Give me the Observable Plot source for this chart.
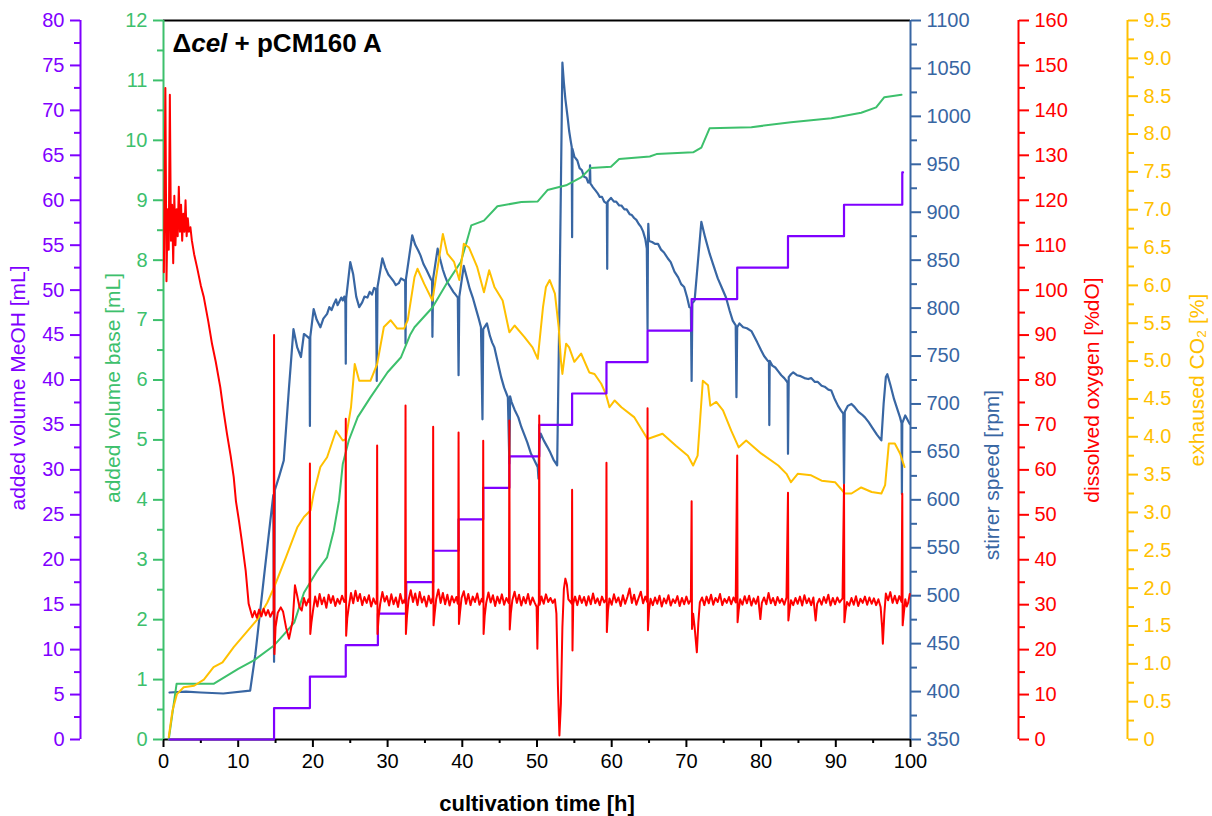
<!DOCTYPE html>
<html><head><meta charset="utf-8">
<script src="https://cdn.jsdelivr.net/npm/d3@7"></script>
<script src="https://cdn.jsdelivr.net/npm/@observablehq/plot@0.6"></script>
<style>
html,body{margin:0;padding:0;background:#fff;}
#chart{position:relative;width:1212px;height:816px;background:#fff;}
#chart svg{position:absolute;left:0;top:0;}
</style></head><body><div id="chart"></div>
<script>
// ---------------- data ----------------
const timeTicks = [0,10,20,30,40,50,60,70,80,90,100];
const timeMinor = [5,15,25,35,45,55,65,75,85,95];
const meohTicks = [0,5,10,15,20,25,30,35,40,45,50,55,60,65,70,75,80];
const meohMinor = [2.5,7.5,12.5,17.5,22.5,27.5,32.5,37.5,42.5,47.5,52.5,57.5,62.5,67.5,72.5,77.5];
const baseTicks = [0,1,2,3,4,5,6,7,8,9,10,11,12];
const baseMinor = [0.5,1.5,2.5,3.5,4.5,5.5,6.5,7.5,8.5,9.5,10.5,11.5];
const stirTicks = [350,400,450,500,550,600,650,700,750,800,850,900,950,1000,1050,1100];
const stirMinor = [375,425,475,525,575,625,675,725,775,825,875,925,975,1025,1075];
const doTicks = [0,10,20,30,40,50,60,70,80,90,100,110,120,130,140,150,160];
const doMinor = [5,15,25,35,45,55,65,75,85,95,105,115,125,135,145,155];
const co2Ticks = [0,0.5,1,1.5,2,2.5,3,3.5,4,4.5,5,5.5,6,6.5,7,7.5,8,8.5,9,9.5];
const co2Minor = [0.25,0.75,1.25,1.75,2.25,2.75,3.25,3.75,4.25,4.75,5.25,5.75,6.25,6.75,7.25,7.75,8.25,8.75,9.25];

const meohVolume = [[0.8,0],[14.8,3.5],[19.6,7],[24.4,10.5],[28.7,14],[32.5,17.5],[36.1,21],[39.5,24.5],[42.8,28],[46.3,31.5],[50.3,35],[54.7,38.5],[59.3,42],[64.8,45.5],[70.7,49],[76.8,52.5],[83.6,56],[91.1,59.5],[98.9,63.1],[99.0,63.1]];

const baseVolume = [[0.7,0],[1.75,0.93],[6.7,0.93],[10,1.18],[12.1,1.32],[14.8,1.57],[16.1,1.75],[17.5,1.95],[18.8,2.45],[20.6,2.82],[21.9,3.04],[22.8,3.49],[23.5,3.99],[24.0,4.6],[24.8,4.99],[26,5.38],[27.7,5.71],[30,6.13],[31.8,6.38],[33,6.75],[33.6,6.88],[36,7.21],[38,7.63],[39.8,7.97],[40.5,8.27],[41.2,8.58],[42.9,8.66],[44.7,8.9],[47.9,8.97],[50.1,8.98],[51.4,9.17],[53.9,9.25],[55.9,9.38],[57.2,9.54],[59.9,9.56],[61,9.69],[65.1,9.73],[66,9.77],[70.9,9.8],[72,9.88],[73.1,10.2],[78.7,10.22],[84,10.3],[89.4,10.37],[93.4,10.46],[95.4,10.55],[96.5,10.72],[98.8,10.76]];

const stirrerSpeed = [[0.8,399],[3,400],[5,399],[8,398],[11.6,401],[12.3,439],[13.4,516],[14.3,578],[14.7,605],[14.8,431],[14.9,610],[15.5,625],[16.1,641],[16.8,717],[17.4,778],[17.9,759],[18.4,749],[18.8,773],[19.3,770],[19.55,768],[19.6,677],[19.65,770],[20.1,799],[20.5,788],[21.0,780],[21.4,789],[21.9,794],[22.2,801],[22.5,798],[22.8,804],[23.1,809],[23.3,803],[23.5,806],[23.8,811],[24.0,808],[24.2,812],[24.35,805],[24.4,742],[24.45,810],[25.0,848],[25.4,835],[25.8,812],[26.2,801],[26.6,806],[26.9,812],[27.3,811],[27.6,817],[27.9,814],[28.2,821],[28.45,820],[28.55,724],[28.65,822],[29.3,852],[29.7,842],[30.1,835],[30.4,832],[30.8,828],[31.1,824],[31.5,826],[31.8,831],[32.2,829],[32.35,829],[32.4,763],[32.45,830],[33.3,876],[33.7,866],[34.1,860],[34.4,855],[34.8,846],[35.2,840],[35.5,835],[35.8,830],[35.95,829],[36.0,770],[36.1,831],[36.7,862],[37.0,852],[37.4,840],[37.7,833],[38.0,827],[38.4,822],[38.8,817],[39.1,814],[39.4,811],[39.5,730],[39.6,812],[40.2,844],[40.6,832],[41.0,820],[41.4,811],[41.8,800],[42.2,789],[42.5,780],[42.7,684],[42.8,778],[43.3,784],[43.7,771],[44.0,764],[44.3,759],[44.7,745],[45.2,728],[45.6,717],[46.1,707],[46.3,638],[46.4,708],[46.6,702],[47.0,694],[47.5,686],[47.9,676],[48.3,668],[48.7,660],[49.2,648],[49.6,642],[50.1,634],[50.2,622],[50.3,660],[50.5,669],[50.9,662],[51.4,655],[51.8,649],[52.2,642],[52.7,636],[53.0,800],[53.4,1056],[53.6,1035],[53.8,1018],[54.1,999],[54.3,985],[54.5,975],[54.65,968],[54.7,874],[54.75,966],[55.0,958],[55.4,954],[55.7,946],[56.0,944],[56.3,937],[56.6,936],[56.85,931],[57.05,932],[57.1,949],[57.15,930],[57.5,926],[57.8,923],[58.1,920],[58.4,916],[58.7,916],[59.0,911],[59.35,909],[59.4,841],[59.45,911],[59.9,915],[60.3,911],[60.6,911],[61.0,907],[61.3,907],[61.7,903],[62.0,903],[62.4,898],[62.7,897],[63.0,894],[63.3,892],[63.6,888],[63.9,885],[64.2,880],[64.5,872],[64.7,862],[64.8,778],[64.85,870],[64.9,888],[65.0,870],[65.4,869],[65.8,867],[66.2,867],[66.6,861],[67.0,858],[67.5,852],[67.9,848],[68.4,838],[68.9,832],[69.3,825],[69.7,822],[70.1,811],[70.4,801],[70.6,800],[70.7,724],[70.8,805],[71.1,808],[72.0,890],[72.5,874],[73.1,857],[73.6,845],[74.2,831],[74.7,822],[75.3,811],[75.8,797],[76.2,787],[76.6,782],[76.7,707],[76.8,780],[77.1,784],[77.6,780],[78.1,779],[78.7,776],[79.1,770],[79.5,764],[80.0,756],[80.4,750],[80.9,745],[81.05,744],[81.1,678],[81.15,745],[81.5,740],[81.9,738],[82.3,734],[82.7,730],[83.1,727],[83.4,724],[83.55,722],[83.6,648],[83.7,728],[84.0,731],[84.3,733],[84.8,730],[85.3,729],[85.8,727],[86.3,726],[86.7,727],[87.2,723],[87.6,723],[88.1,719],[88.5,718],[89.0,715],[89.4,714],[89.8,706],[90.3,698],[90.7,693],[91.0,690],[91.1,617],[91.2,692],[91.6,698],[92.1,700],[92.5,697],[93.0,692],[93.5,689],[93.9,686],[94.4,681],[94.9,675],[95.5,668],[96.1,662],[96.4,700],[96.7,728],[96.9,731],[97.3,720],[97.8,705],[98.3,693],[98.6,686],[98.8,680],[98.85,606],[98.9,680],[99.3,688],[99.9,679]];

const dissolvedOxygen = [[0.05,104],[0.25,145],[0.4,102],[0.55,118],[0.7,109],[0.85,143.5],[1.0,111],[1.15,119],[1.3,106],[1.45,121],[1.6,110],[1.75,118],[1.9,112],[2.05,123],[2.2,113],[2.35,119],[2.5,111],[2.65,117],[2.8,113],[2.95,120],[3.1,112],[3.25,116],[3.4,113],[3.6,114],[3.8,111],[4.1,108],[4.5,105],[5.0,101],[5.4,98.4],[6.0,93],[6.5,88],[7.0,84],[7.6,78.4],[8.0,73.5],[8.5,68],[9.0,63],[9.4,58.4],[9.7,53],[10.1,48.7],[10.5,44],[11.0,37.6],[11.4,30.2],[11.9,27.2],[12.2,28.6],[12.5,27.1],[12.8,28.9],[13.1,27.4],[13.4,29.1],[13.7,27.6],[14.0,28.8],[14.3,27.3],[14.6,28.4],[14.75,28],[14.8,90],[14.85,19],[15.0,25],[15.3,28.2],[15.7,29.4],[16.0,28.5],[16.4,25],[16.8,22.4],[17.0,24],[17.3,26.5],[17.6,34.3],[17.9,32],[18.2,29.5],[18.5,28.7],[18.8,31.5],[19.1,29.8],[19.4,31.2],[19.55,30.5],[19.6,61.4],[19.65,23.5],[19.8,26],[20.0,28.5],[20.3,31.8],[20.6,29.6],[20.9,32.4],[21.2,30.1],[21.5,31.6],[21.8,29.3],[22.1,32.2],[22.4,30.4],[22.7,31.9],[23.0,29.7],[23.3,31.3],[23.6,30.2],[23.9,32.0],[24.2,30.6],[24.35,30.8],[24.4,71.4],[24.45,23.1],[24.6,27],[24.8,29.5],[25.1,32.6],[25.4,30.3],[25.7,33.1],[26.0,30.8],[26.3,32.4],[26.6,29.9],[26.9,31.7],[27.2,30.4],[27.5,32.1],[27.8,29.6],[28.1,31.4],[28.4,30.2],[28.55,30.6],[28.6,65.4],[28.65,23.5],[28.8,27.2],[29.0,30.1],[29.3,32.8],[29.6,30.7],[29.9,31.9],[30.2,29.8],[30.5,32.3],[30.8,30.1],[31.1,31.6],[31.4,29.5],[31.7,32.4],[32.0,30.3],[32.3,31.2],[32.35,30.4],[32.4,74.3],[32.45,23.5],[32.6,27.5],[32.8,31],[33.1,33.2],[33.4,30.6],[33.7,32.5],[34.0,29.9],[34.3,32.8],[34.6,30.5],[34.9,31.8],[35.2,29.6],[35.5,32.0],[35.8,30.3],[36.0,31.4],[36.05,30.7],[36.1,69.6],[36.15,25.4],[36.3,28],[36.5,31.2],[36.8,33.4],[37.1,30.4],[37.4,32.6],[37.7,30.1],[38.0,32.2],[38.3,29.8],[38.6,31.9],[38.9,30.5],[39.2,31.7],[39.4,30.2],[39.45,30.5],[39.5,68.3],[39.55,25.7],[39.7,28.4],[39.9,31.5],[40.2,33.0],[40.5,30.2],[40.8,32.4],[41.1,29.9],[41.4,31.8],[41.7,30.6],[42.0,32.5],[42.3,30.0],[42.6,31.3],[42.75,30.6],[42.8,66.5],[42.85,23.5],[43.0,27.5],[43.2,30.4],[43.5,32.7],[43.8,30.5],[44.1,32.1],[44.4,29.7],[44.7,31.8],[45.0,30.3],[45.3,32.3],[45.6,30.0],[45.9,31.5],[46.2,30.4],[46.25,30.8],[46.3,71],[46.35,24.5],[46.5,28.2],[46.7,31],[47.0,32.9],[47.3,30.4],[47.6,32.2],[47.9,29.8],[48.2,31.7],[48.5,30.3],[48.8,32.4],[49.1,30.0],[49.4,31.6],[49.7,30.4],[49.95,29.5],[50.05,20.2],[50.15,29.5],[50.25,30.5],[50.3,72.1],[50.35,30.0],[50.6,31.8],[50.9,30.2],[51.2,32.3],[51.5,30.6],[51.8,31.5],[52.1,30.4],[52.4,31.2],[52.6,28],[52.8,12],[53.0,0.9],[53.2,8],[53.4,25],[53.6,33.5],[53.8,35.8],[54.0,34.5],[54.2,31.2],[54.5,30.6],[54.65,30.2],[54.7,55.6],[54.75,19.8],[54.85,30.2],[55.1,31.8],[55.4,29.9],[55.7,32.0],[56.0,30.4],[56.3,31.7],[56.6,29.8],[56.9,31.9],[57.2,30.1],[57.5,32.5],[57.8,30.3],[58.1,31.4],[58.4,29.9],[58.7,31.8],[59.0,30.5],[59.25,31.2],[59.3,61.6],[59.35,23.9],[59.5,28.6],[59.7,31.4],[60.0,30.0],[60.3,32.3],[60.6,30.5],[60.9,31.6],[61.2,29.7],[61.5,32.1],[61.8,30.2],[62.1,31.7],[62.4,33.6],[62.7,30.4],[63.0,32.2],[63.3,30.0],[63.6,31.5],[63.9,32.9],[64.2,30.3],[64.5,31.8],[64.75,30.6],[64.8,73.7],[64.85,24.3],[65.0,28.8],[65.2,31.3],[65.5,29.9],[65.8,31.6],[66.1,30.2],[66.4,32.0],[66.7,29.6],[67.0,31.4],[67.3,30.3],[67.6,32.1],[67.9,29.8],[68.2,31.2],[68.5,30.4],[68.8,31.9],[69.1,29.7],[69.4,31.5],[69.7,30.1],[70.0,31.8],[70.3,30.2],[70.6,31.1],[70.7,53],[70.75,24.6],[70.9,28],[71.1,25],[71.4,19.4],[71.6,26],[71.8,30.5],[72.1,31.6],[72.4,29.9],[72.7,31.8],[73.0,30.3],[73.3,32.2],[73.6,30.0],[73.9,31.5],[74.2,30.6],[74.5,32.4],[74.8,29.9],[75.1,31.3],[75.4,30.4],[75.7,31.7],[76.0,30.1],[76.3,31.6],[76.6,30.5],[76.8,63.2],[76.85,26.1],[77.0,28.8],[77.2,31.2],[77.5,30.0],[77.8,31.9],[78.1,30.3],[78.4,32.0],[78.7,29.8],[79.0,31.4],[79.3,30.2],[79.6,31.8],[79.9,26.8],[80.1,30.4],[80.4,31.6],[80.7,30.1],[81.0,32.6],[81.3,30.3],[81.6,31.5],[81.9,29.9],[82.2,31.7],[82.5,30.4],[82.8,31.3],[83.1,30.0],[83.4,31.6],[83.6,54.9],[83.65,26.5],[83.8,28.6],[84.0,31.0],[84.3,29.9],[84.6,31.5],[84.9,30.2],[85.2,31.8],[85.5,29.8],[85.8,32.1],[86.1,30.3],[86.4,31.4],[86.7,29.9],[87.0,31.6],[87.3,26.5],[87.5,30.2],[87.8,31.3],[88.1,30.0],[88.4,31.7],[88.7,30.4],[89.0,32.2],[89.3,29.8],[89.6,31.5],[89.9,30.1],[90.2,31.6],[90.5,30.5],[90.9,31.4],[91.1,56.7],[91.15,26.1],[91.3,28.5],[91.5,30.6],[91.8,29.8],[92.1,31.5],[92.4,30.0],[92.7,31.9],[93.0,29.7],[93.3,31.3],[93.6,30.4],[93.9,31.8],[94.2,30.0],[94.5,31.6],[94.8,30.2],[95.1,31.4],[95.4,29.9],[95.7,31.2],[96.0,29.5],[96.2,25],[96.3,21.3],[96.5,28],[96.7,32.5],[97.0,31.0],[97.3,32.8],[97.6,30.4],[97.9,32.0],[98.2,30.3],[98.5,31.9],[98.8,30.6],[98.9,54.7],[98.95,25.4],[99.1,28],[99.3,31.2],[99.5,29.6],[99.7,30.5],[99.9,32.4]];

const exhaustCO2 = [[0.7,0.03],[1.2,0.38],[1.8,0.6],[2.7,0.69],[4.1,0.71],[5.4,0.79],[6.7,0.955],[7.9,1.02],[9.4,1.22],[11.2,1.43],[12.6,1.59],[13.9,1.81],[14.8,2.01],[16.4,2.41],[17.9,2.8],[18.8,2.94],[19.7,3.03],[20.1,3.25],[21.0,3.6],[21.9,3.73],[23.1,4.08],[24.0,3.95],[24.4,3.97],[25.1,4.39],[25.6,4.96],[26.2,4.74],[27.7,4.74],[28.6,4.96],[29.5,5.45],[30.4,5.54],[31.3,5.43],[32.2,5.43],[32.7,5.54],[33.6,6.11],[34.0,6.22],[34.9,6.02],[36.0,5.8],[36.7,6.24],[37.4,6.68],[38.0,6.42],[38.9,6.31],[39.6,6.07],[40.2,6.55],[40.9,6.5],[42.0,6.24],[42.9,5.91],[43.6,6.2],[44.3,5.98],[45.4,5.8],[46.3,5.38],[47.0,5.47],[48.3,5.32],[49.4,5.18],[50.1,5.03],[50.8,5.71],[51.2,5.98],[51.7,6.07],[52.4,5.89],[52.9,5.45],[53.2,5.01],[53.4,4.83],[53.9,5.23],[54.3,5.18],[55.0,4.99],[55.9,5.1],[57.0,4.85],[57.7,4.83],[58.6,4.7],[59.2,4.57],[59.7,4.39],[60.4,4.48],[61.3,4.39],[63.0,4.26],[64.8,3.97],[66.8,4.04],[68.6,3.88],[70.2,3.75],[70.9,3.62],[71.5,3.75],[72.2,4.74],[72.9,4.68],[73.2,4.41],[74.0,4.46],[74.9,4.35],[76.0,4.08],[77.0,3.86],[78.0,3.95],[80.0,3.78],[82.3,3.62],[83.4,3.51],[84.0,3.4],[84.9,3.51],[86.7,3.49],[88.1,3.42],[89.9,3.4],[90.7,3.31],[91.2,3.25],[92.1,3.25],[93.4,3.33],[94.8,3.27],[96.1,3.25],[96.6,3.36],[97.1,3.91],[97.9,3.91],[98.6,3.78],[99.2,3.6]];

const panelTitle = "Δcel + pCM160 A";
const xTitle = "cultivation time [h]";
const meohTitle = "added volume MeOH [mL]";
const baseTitle = "added volume base [mL]";
const stirTitle = "stirrer speed [rpm]";
const doTitle = "dissolved oxygen [%dO]";
const co2Title = "exhaused CO₂ [%]";

// ---------------- layout / style ----------------
const W = 1212, H = 816;
const M = {top: 20, right: 302, bottom: 77, left: 163};
const FONT = "'Liberation Sans', Arial, sans-serif";
const C = {meoh: "#7f00ff", base: "#3dc06c", stir: "#3866a3", do: "#ff0000", co2: "#ffc000"};

function layer(ydomain, marks) {
  return Plot.plot({
    width: W, height: H,
    marginTop: M.top, marginRight: M.right, marginBottom: M.bottom, marginLeft: M.left,
    x: {domain: [0, 100], axis: null},
    y: {domain: ydomain, axis: null},
    style: {background: "transparent", fontFamily: FONT, fontSize: "20px", overflow: "visible"},
    marks
  });
}
function yAxis(ticks, minor, color, anchor, dx, fmt) {
  return [
    Plot.ruleX([anchor === "left" ? 0 : 100], {stroke: color, strokeWidth: 2, dx}),
    Plot.axisY({ticks, anchor, dx, color, tickSize: 10, tickPadding: 6, strokeWidth: 2, label: null, fontSize: 20, tickFormat: fmt || (d => String(d))}),
    Plot.axisY({ticks: minor, anchor, dx, color, tickSize: 6, strokeWidth: 2, label: null, tickFormat: () => ""})
  ];
}
function vTitle(text, color, anchor, dx, dy) {
  return Plot.text([text], {frameAnchor: anchor, dx, dy: dy || 0, rotate: -90, fill: color, fontSize: 21, textAnchor: "middle", lineAnchor: "middle"});
}
const pt = (arr) => arr.map(([t, v]) => ({t, v}));

const chart = document.getElementById("chart");

// base layer: x axis, frame, panel title
chart.append(layer([0, 80], [
  Plot.ruleY([80], {stroke: "black", strokeWidth: 2}),
  Plot.ruleY([0], {stroke: "black", strokeWidth: 2}),
  Plot.axisX({ticks: timeTicks, tickSize: 8, tickPadding: 6, strokeWidth: 2, color: "black", label: null, fontSize: 20}),
  Plot.axisX({ticks: timeMinor, tickSize: 4, strokeWidth: 2, color: "black", label: null, tickFormat: () => ""}),
  Plot.text([xTitle], {frameAnchor: "bottom", dy: 64, fontWeight: "bold", fontSize: 22, lineAnchor: "middle", fill: "black"}),
  Plot.text([panelTitle], {frameAnchor: "top-left", dx: 9, dy: 23, fontWeight: "bold", fontSize: 26, textAnchor: "start", lineAnchor: "middle", fill: "black"})
]));

// stirrer speed (blue)
chart.append(layer([350, 1100], [
  ...yAxis(stirTicks, stirMinor, C.stir, "right", 0),
  vTitle(stirTitle, C.stir, "right", 82, 95),
  Plot.line(pt(stirrerSpeed), {x: "t", y: "v", stroke: C.stir, strokeWidth: 2.2})
]));

// base volume (green)
chart.append(layer([0, 12], [
  ...yAxis(baseTicks, baseMinor, C.base, "left", 0),
  vTitle(baseTitle, C.base, "left", -50, 8),
  Plot.line(pt(baseVolume), {x: "t", y: "v", stroke: C.base, strokeWidth: 2})
]));

// CO2 (yellow)
chart.append(layer([0, 9.5], [
  ...yAxis(co2Ticks, co2Minor, C.co2, "right", 217, d => d === 0 ? "0" : d.toFixed(1)),
  vTitle(co2Title, C.co2, "right", 287),
  Plot.line(pt(exhaustCO2), {x: "t", y: "v", stroke: C.co2, strokeWidth: 2})
]));

// MeOH (purple)
chart.append(layer([0, 80], [
  ...yAxis(meohTicks, meohMinor, C.meoh, "left", -83),
  vTitle(meohTitle, C.meoh, "left", -145, 8),
  Plot.line(pt(meohVolume), {x: "t", y: "v", stroke: C.meoh, strokeWidth: 2.2, curve: "step-after"})
]));

// dissolved oxygen (red)
chart.append(layer([0, 160], [
  ...yAxis(doTicks, doMinor, C.do, "right", 108),
  vTitle(doTitle, C.do, "right", 182, 10),
  Plot.line(pt(dissolvedOxygen), {x: "t", y: "v", stroke: C.do, strokeWidth: 2})
]));

// italic "cel" in the panel title
document.querySelectorAll("#chart text").forEach(el => {
  if (el.textContent === panelTitle) {
    el.textContent = "";
    const parts = [["Δ", "normal"], ["cel", "italic"], [" + pCM160 A", "normal"]];
    for (const [s, st] of parts) {
      const ts = document.createElementNS("http://www.w3.org/2000/svg", "tspan");
      ts.setAttribute("font-style", st);
      ts.textContent = s;
      el.appendChild(ts);
    }
  }
});
</script></body></html>
